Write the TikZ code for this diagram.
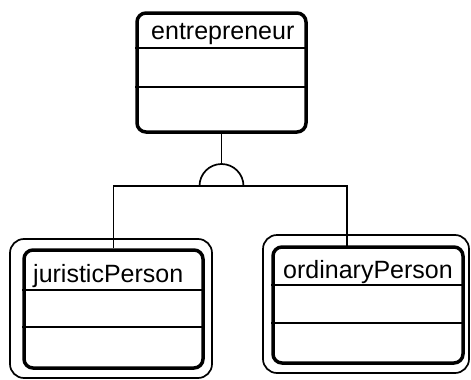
\documentclass[tikz,border=0pt]{standalone}
\usepackage{fontspec}
\setmainfont{Liberation Sans}
\begin{document}
\begin{tikzpicture}[x=1pt,y=-1pt,
  cls/.style={draw, line width=3.5pt, rounded corners=9pt, inner sep=0pt},
  outer/.style={draw, line width=1.7pt, rounded corners=14pt, inner sep=0pt},
  lbl/.style={anchor=base west, inner sep=0pt, font=\fontsize{25}{28}\selectfont},
  div/.style={line width=1.7pt},
  conn/.style={line width=1.7pt}]
\useasboundingbox (0,0) rectangle (471,380);
% entrepreneur
\node[cls, minimum width=169pt, minimum height=119pt] (ent) at (221.5,72.5) {};
\node[lbl] (entT) at (151,39) {entrepreneur};
\draw[div] (ent.west |- 0,48) -- (ent.east |- 0,48);
\draw[div] (ent.west |- 0,87) -- (ent.east |- 0,87);
% juristicPerson
\node[outer, minimum width=202pt, minimum height=139pt] (jurO) at (111,308.5) {};
\node[cls, minimum width=179pt, minimum height=118pt] (jur) at (113.5,309) {};
\node[lbl] (jurT) at (33,282) {juristicPerson};
\draw[div] (jur.west |- 0,290) -- (jur.east |- 0,290);
\draw[div] (jur.west |- 0,327) -- (jur.east |- 0,327);
% ordinaryPerson
\node[outer, minimum width=206pt, minimum height=138pt] (ordO) at (366,304) {};
\node[cls, minimum width=190pt, minimum height=116pt] (ord) at (368,305) {};
\node[lbl] (ordT) at (283,278) {ordinaryPerson};
\draw[div] (ord.west |- 0,285) -- (ord.east |- 0,285);
\draw[div] (ord.west |- 0,323) -- (ord.east |- 0,323);
% generalisation
\coordinate (isa) at (221.5,186);
\coordinate (dome) at (221.5,164);
\coordinate (odrop) at (347,247);
\draw[conn] (ent.south) -- (dome);
\draw[conn] ([xshift=-22pt]isa) arc[start angle=180, end angle=0, radius=22pt];
\draw[conn] (isa) -| (jur.north);
\draw[conn] (isa) -| (odrop);
\end{tikzpicture}
\end{document}
